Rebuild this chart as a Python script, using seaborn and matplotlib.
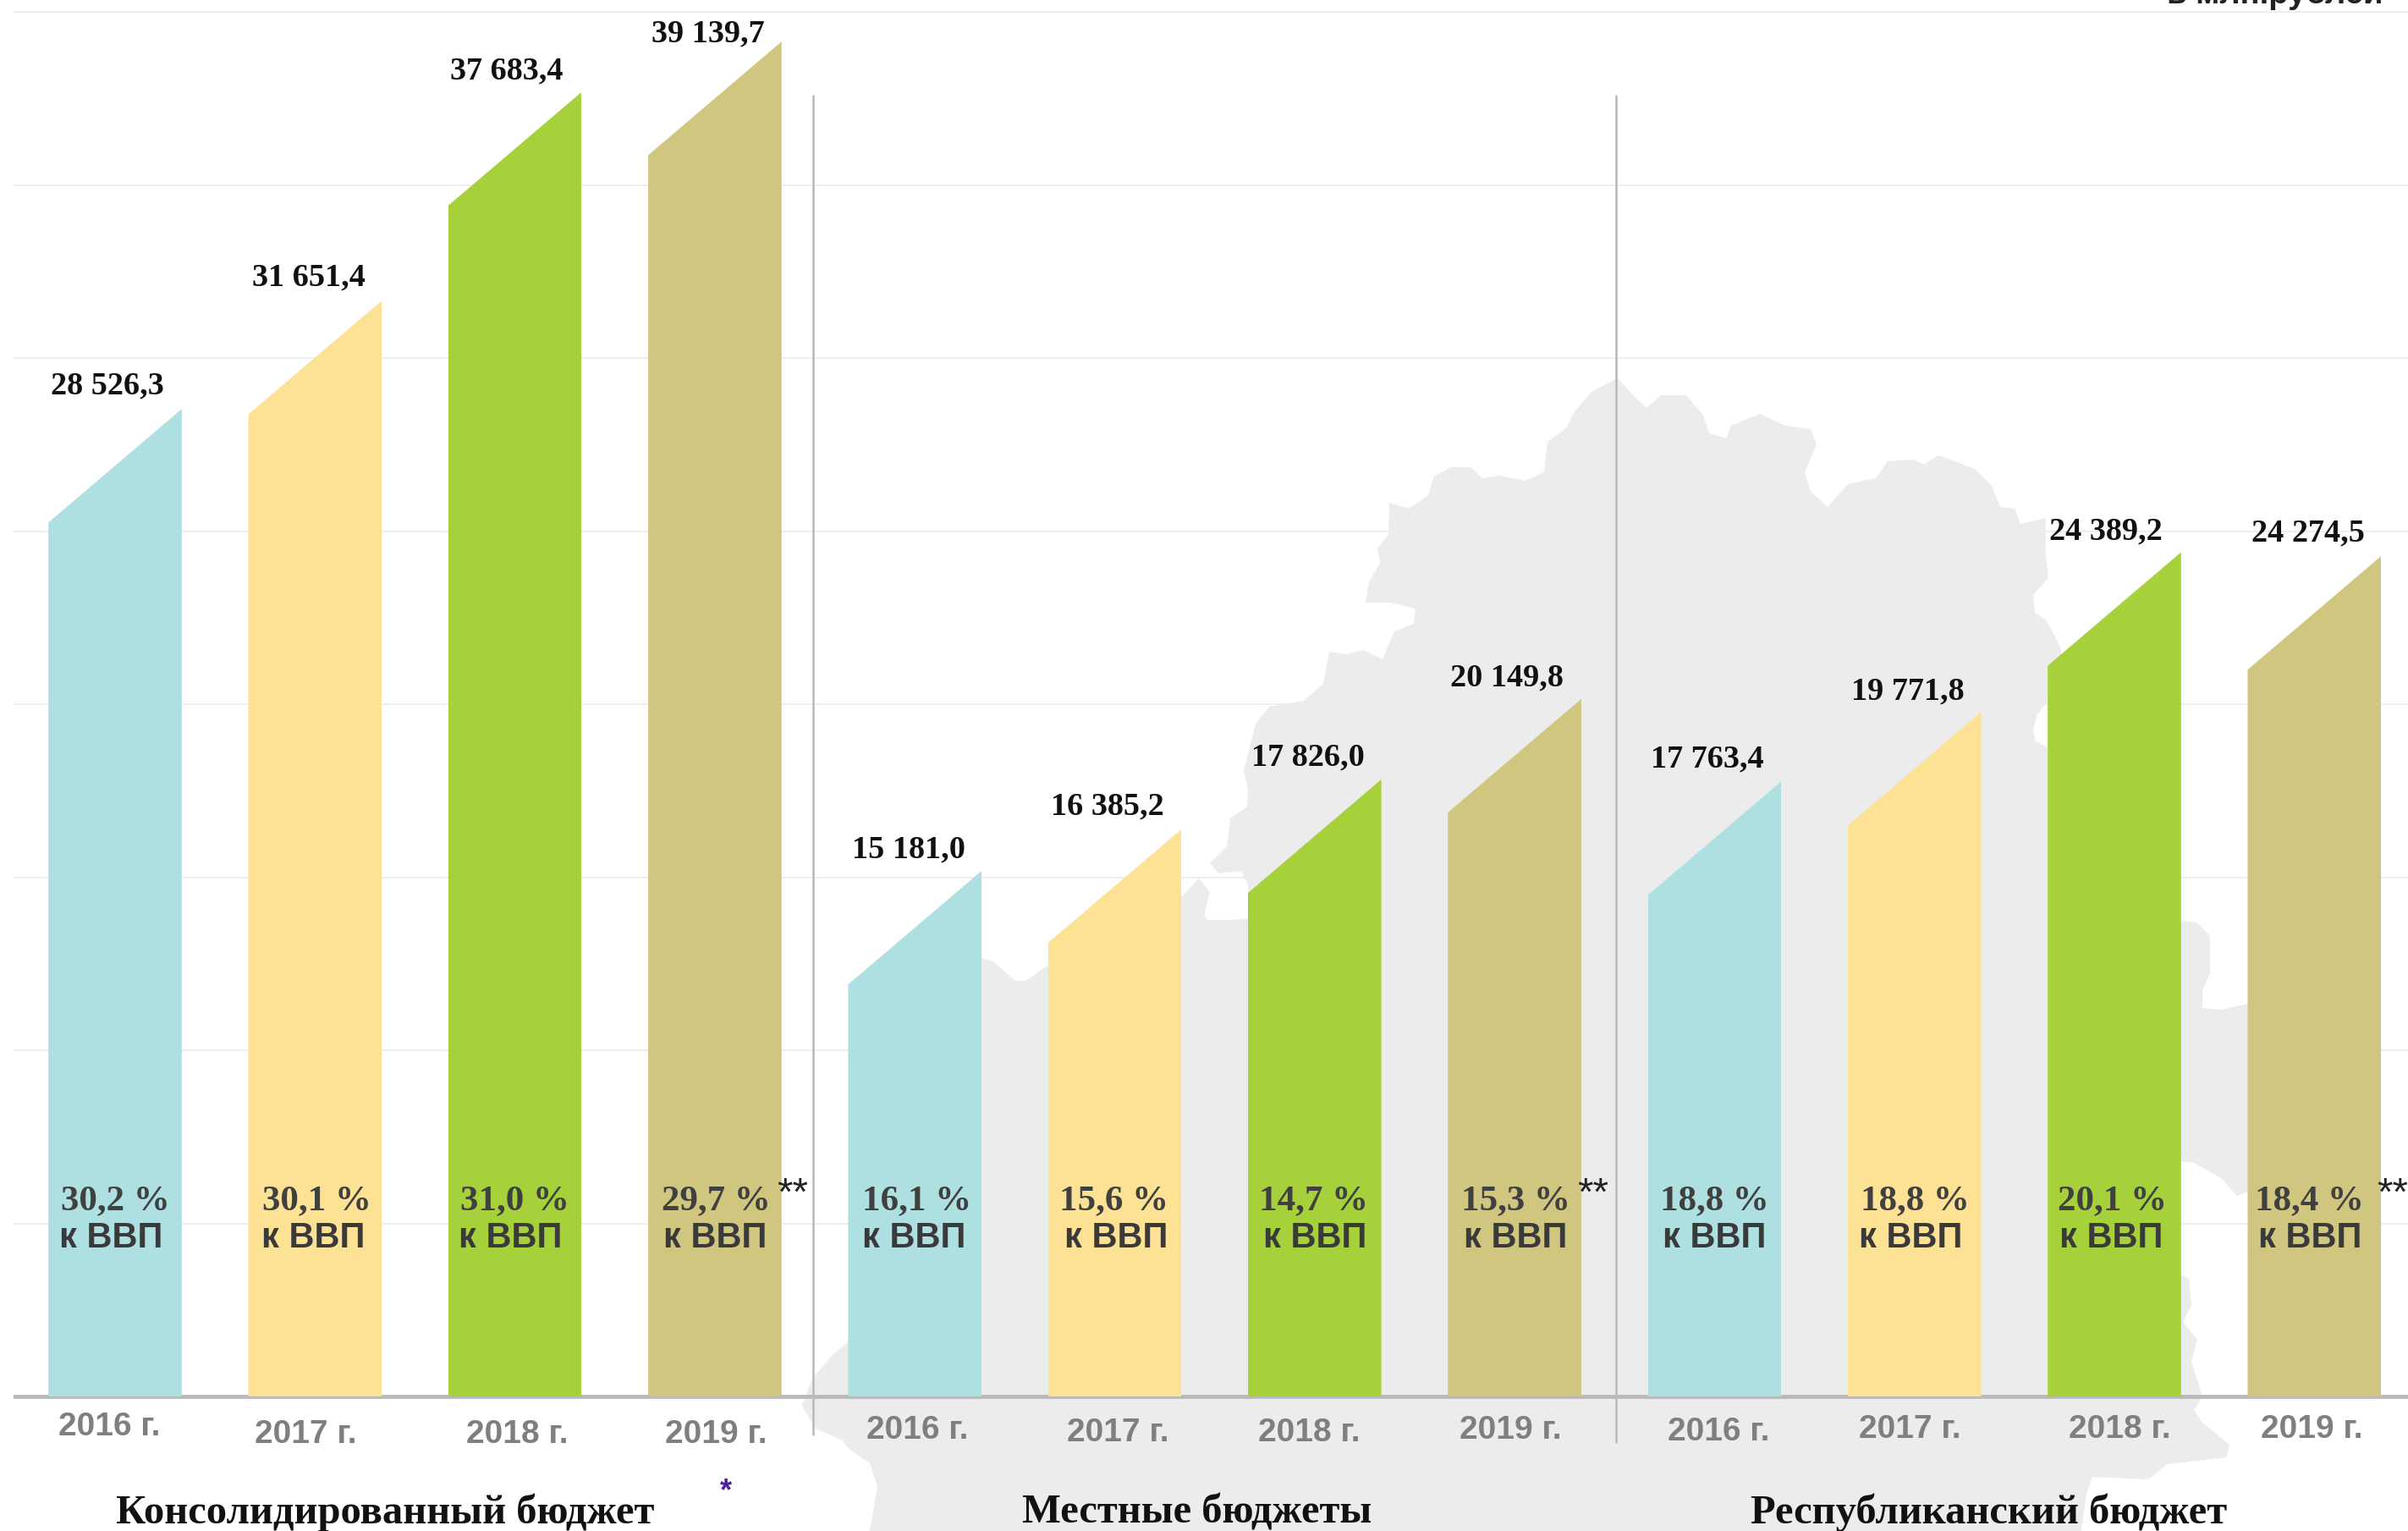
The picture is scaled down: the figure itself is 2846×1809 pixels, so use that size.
import matplotlib
matplotlib.use("Agg")
import matplotlib.pyplot as plt
from matplotlib.patches import Polygon
from matplotlib.transforms import Affine2D
import pandas as pd
import seaborn as sns

W, H = 2846, 1809

# Data
groups = ["Консолидированный бюджет", "Местные бюджеты", "Республиканский бюджет"]
years = ["2016 г.", "2017 г.", "2018 г.", "2019 г."]
consolidated = [28526.3, 31651.4, 37683.4, 39139.7]
local = [15181.0, 16385.2, 17826.0, 20149.8]
republican = [17763.4, 19771.8, 24389.2, 24274.5]
consolidated_pct = ["30,2 %", "30,1 %", "31,0 %", "29,7 %"]
local_pct = ["16,1 %", "15,6 %", "14,7 %", "15,3 %"]
republican_pct = ["18,8 %", "18,8 %", "20,1 %", "18,4 %"]
value_labels = ["28 526,3", "31 651,4", "37 683,4", "39 139,7",
                "15 181,0", "16 385,2", "17 826,0", "20 149,8",
                "17 763,4", "19 771,8", "24 389,2", "24 274,5"]
colors = {"2016 г.": "#aee0e1", "2017 г.": "#fde194",
          "2018 г.": "#a7d13b", "2019 г.": "#d1c680"}

# Layout, in picture pixels
value_xy = [(127, 456), (365, 328), (599, 84), (837, 40),
            (1074, 1004), (1309, 953), (1546, 895), (1781, 801),
            (2018, 897), (2255, 817), (2489, 628), (2728, 630)]
pct_x = [136, 374, 608, 846, 1084, 1317, 1553, 1791, 2026, 2263, 2497, 2729]
gdp_x = [131, 370, 603, 845, 1080, 1319, 1554, 1791, 2026, 2258, 2495, 2730]
year_xy = [(129, 1686), (361, 1695), (611, 1695), (846, 1695),
           (1084, 1690), (1321, 1693), (1547, 1693), (1785, 1690),
           (2031, 1692), (2257, 1689), (2505, 1689), (2732, 1689)]
title_x = [455, 1415, 2351]
stars_x = [937, 1883, 2828]

# Background map outline
map_outline = [
    (1912, 447), (1932, 469), (1946, 482), (1963, 467), (1993, 467), (2013, 491),
    (2020, 512), (2040, 518), (2046, 503), (2080, 489), (2110, 503), (2140, 507),
    (2147, 525), (2133, 558), (2140, 581), (2160, 599), (2184, 572), (2217, 565),
    (2231, 545), (2261, 543), (2274, 549), (2291, 538), (2334, 554), (2354, 574),
    (2364, 599), (2381, 601), (2388, 619), (2418, 612), (2418, 657), (2421, 683),
    (2403, 703), (2405, 724), (2418, 732), (2435, 764), (2440, 800), (2421, 828),
    (2408, 844), (2403, 862), (2405, 875), (2421, 884), (2577, 1088), (2596, 1090),
    (2612, 1106), (2612, 1150), (2603, 1170), (2603, 1191), (2625, 1193), (2657, 1186),
    (2657, 1408), (2644, 1413), (2625, 1392), (2593, 1374), (2577, 1372), (2577, 1506),
    (2587, 1511), (2590, 1542), (2580, 1562), (2597, 1583), (2590, 1609), (2603, 1650),
    (2593, 1666), (2603, 1681), (2635, 1707), (2631, 1722), (2562, 1730), (2539, 1748),
    (2473, 1745), (2466, 1764), (2460, 1809), (1028, 1809), (1037, 1756), (1028, 1729),
    (1002, 1711), (996, 1702), (964, 1688), (948, 1661), (960, 1629), (983, 1602),
    (1002, 1586), (1160, 1132), (1174, 1136), (1200, 1159), (1212, 1159), (1238, 1141),
    (1396, 1060), (1417, 1038), (1430, 1054), (1423, 1081), (1427, 1087), (1457, 1087),
    (1475, 1085), (1475, 1045), (1467, 1029), (1440, 1032), (1430, 1020), (1450, 1000),
    (1454, 967), (1474, 953), (1475, 933), (1470, 911), (1484, 855), (1500, 835),
    (1541, 828), (1564, 808), (1571, 770), (1591, 773), (1611, 768), (1634, 779),
    (1648, 746), (1671, 737), (1673, 719), (1644, 712), (1614, 712), (1618, 688),
    (1631, 665), (1628, 648), (1641, 632), (1642, 594), (1665, 601), (1688, 585),
    (1695, 563), (1715, 552), (1738, 552), (1752, 565), (1772, 562), (1802, 568),
    (1825, 558), (1829, 522), (1852, 505), (1859, 489), (1882, 462),
]

SLANT = 3280  # how far the left corner of a bar sits below the right one
PX_PER_UNIT = 0.0409
BASE_Y = 1650
X0, DX = 136, 236.3
AX_LEFT = 16

# Table for seaborn
df = pd.DataFrame({
    "bar": [f"{g} {y}" for g in groups for y in years],
    "year": years * 3,
    "value": consolidated + local + republican,
})

sns.set_theme(style="white")
plt.rcParams["font.family"] = ["Liberation Sans", "DejaVu Sans"]

fig = plt.figure(figsize=(W / 100, H / 100), dpi=100, facecolor="white")
ax = fig.add_axes([AX_LEFT / W, 0, 1 - AX_LEFT / W, 1])

sns.barplot(data=df, x="bar", y="value", hue="year", order=list(df["bar"]),
            hue_order=years, palette=colors, dodge=False, width=0.667,
            saturation=1, legend=False, linewidth=0, ax=ax)

ax.set_xlim((AX_LEFT - X0) / DX, (W - X0) / DX)
ax.set_ylim(-(H - BASE_Y) / PX_PER_UNIT, BASE_Y / PX_PER_UNIT)
ax.set_yticks(range(0, 45000, 5000))
ax.set_xticks([])
ax.set_xlabel("")
ax.set_ylabel("")
ax.tick_params(left=False, bottom=False, labelleft=False, labelbottom=False)
ax.set_axisbelow(True)
ax.yaxis.grid(True, color="#eeeeee", linewidth=1.4)
ax.xaxis.grid(False)
sns.despine(ax=ax, left=True, bottom=True)

# Slanted tops
for bar in list(ax.patches):
    x, w, h = bar.get_x(), bar.get_width(), bar.get_height()
    cut = Polygon([(x, 0), (x, h - SLANT), (x + w, h), (x + w, 0)], transform=ax.transData)
    bar.set_clip_path(cut)
    bar.set_zorder(3)

ax.axhline(0, color="#b9b9b9", linewidth=3.4, zorder=2.5)

# Everything below is placed in picture pixels, y going down
pix = Affine2D().scale(1, -1).translate(0, H)

ax.add_patch(Polygon(map_outline, closed=True, facecolor="#ececec", edgecolor="none",
                     transform=pix, clip_on=False, zorder=1))

for sep_x, y_end in [(961, 1695), (1910, 1704)]:
    ax.plot([sep_x, sep_x], [113, y_end], color="#b9b9b9", linewidth=1.8,
            transform=pix, clip_on=False, zorder=2.7)

SERIF = ["Liberation Serif", "DejaVu Serif"]
SANS = ["Liberation Sans", "DejaVu Sans"]
pct_labels = consolidated_pct + local_pct + republican_pct

for i in range(12):
    ax.text(*value_xy[i], value_labels[i], transform=pix, ha="center", va="center",
            family=SERIF, weight="bold", fontsize=27.5, color="#111111", zorder=5)
    ax.text(pct_x[i], 1419, pct_labels[i], transform=pix, ha="center", va="center",
            family=SERIF, weight="bold", fontsize=31, color="#404040", zorder=5)
    ax.text(gdp_x[i], 1463, "к ВВП", transform=pix, ha="center", va="center",
            family=SANS, weight="bold", fontsize=30, color="#3a3a3a", zorder=5)
    ax.text(*year_xy[i], df["year"][i], transform=pix, ha="center", va="center",
            family=SANS, weight="bold", fontsize=28, color="#7f7f7f", zorder=5)

for tx, name in zip(title_x, groups):
    ax.text(tx, 1800, name, transform=pix, ha="center", va="baseline",
            family=SERIF, weight="bold", fontsize=35, color="#111111", zorder=5)

for sx in stars_x:
    ax.text(sx, 1412, "**", transform=pix, ha="center", va="center",
            family=SANS, fontsize=34, color="#222222", zorder=5)

ax.text(858, 1763, "*", transform=pix, ha="center", va="center",
        family=SANS, weight="bold", fontsize=26, color="#4b1fa0", zorder=5)

ax.text(2561, 4, "в млн.рублей", transform=pix, ha="left", va="baseline",
        family=SANS, weight="bold", fontsize=27.5, color="#222222", zorder=5)

fig.savefig("out.png", dpi=100)
